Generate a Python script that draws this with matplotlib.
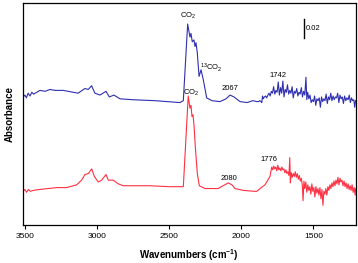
import matplotlib
matplotlib.use('Agg')
import matplotlib.pyplot as plt

plt.rcParams['font.family'] = ['Liberation Sans', 'DejaVu Sans']
plt.rcParams['mathtext.default'] = 'regular'

# Spectrum with CO2 gas (blue) ------------------------------------------
blue_w = [3512, 3500, 3490, 3478, 3465, 3452, 3440, 3396, 3360, 3327, 3290, 3234, 3200, 3165, 3132,
          3084, 3061, 3038, 3015, 2980, 2938, 2915, 2883, 2841, 2749, 2600, 2425,
          2402, 2372, 2356, 2349, 2340, 2328, 2321, 2314, 2305, 2293, 2279, 2263,
          2240, 2203, 2148, 2106, 2078, 2051, 2009, 1960, 1920, 1891,
          1880, 1872, 1864, 1858, 1853, 1848, 1840, 1832, 1824, 1816, 1808, 1800,
          1792, 1784, 1776, 1768, 1760, 1752, 1744, 1736, 1728, 1720, 1712, 1704,
          1696, 1688, 1680, 1672, 1664, 1656, 1648, 1640, 1632, 1624, 1616, 1608,
          1600, 1592, 1584, 1576, 1568, 1560, 1552, 1546, 1540, 1532, 1524, 1516,
          1508, 1500, 1492, 1484, 1476, 1468, 1460, 1452, 1444, 1436, 1428, 1420,
          1412, 1404, 1396, 1388, 1380, 1372, 1364, 1356, 1348, 1340, 1332, 1324,
          1316, 1308, 1300, 1292, 1284, 1276, 1268, 1260, 1252, 1244, 1236, 1228,
          1220, 1214, 1208]
blue_a = [0.137, 0.139, 0.136, 0.141, 0.138, 0.142, 0.140, 0.144, 0.143, 0.145, 0.144, 0.144, 0.143, 0.142, 0.141,
          0.146, 0.145, 0.149, 0.141, 0.139, 0.143, 0.137, 0.139, 0.135, 0.134, 0.133, 0.131,
          0.133, 0.215, 0.201, 0.205, 0.196, 0.198, 0.191, 0.195, 0.184, 0.159, 0.166, 0.155,
          0.136, 0.133, 0.132, 0.135, 0.139, 0.137, 0.132, 0.131, 0.133, 0.132,
          0.132, 0.133, 0.132, 0.131, 0.138, 0.135, 0.137, 0.138, 0.136, 0.139, 0.141, 0.138,
          0.143, 0.141, 0.148, 0.140, 0.144, 0.142, 0.153, 0.139, 0.147, 0.141, 0.154, 0.137,
          0.145, 0.142, 0.150, 0.140, 0.144, 0.141, 0.148, 0.136, 0.143, 0.141, 0.146, 0.138,
          0.142, 0.140, 0.147, 0.137, 0.143, 0.139, 0.158, 0.134, 0.142, 0.135, 0.139, 0.131,
          0.134, 0.132, 0.138, 0.128, 0.135, 0.133, 0.136, 0.126, 0.137, 0.132, 0.135, 0.133,
          0.140, 0.130, 0.137, 0.134, 0.141, 0.133, 0.138, 0.134, 0.137, 0.136, 0.141, 0.131,
          0.139, 0.135, 0.137, 0.130, 0.138, 0.133, 0.136, 0.134, 0.139, 0.131, 0.136, 0.133,
          0.134, 0.126, 0.133]

# Spectrum with CO (red) -------------------------------------------------
red_w = [3512, 3500, 3488, 3476, 3462, 3444, 3400, 3340, 3280, 3211, 3141, 3107, 3084, 3061, 3037,
         3019, 2992, 2968, 2938, 2922, 2888, 2871, 2853, 2818, 2700, 2633, 2500,
         2425, 2402, 2368, 2356, 2349, 2342, 2335, 2328, 2319, 2305, 2291, 2252,
         2160, 2127, 2090, 2065, 2044, 1986, 1905, 1893, 1870, 1836, 1801,
         1789, 1782, 1775, 1768, 1761, 1754, 1747, 1740, 1733, 1726, 1719, 1712,
         1705, 1698, 1691, 1684, 1677, 1670, 1664, 1660, 1654, 1647, 1640, 1633,
         1626, 1619, 1612, 1605, 1598, 1591, 1584, 1577, 1572, 1566, 1560, 1553,
         1546, 1539, 1532, 1525, 1518, 1511, 1504, 1497, 1490, 1483, 1476, 1469,
         1462, 1455, 1448, 1441, 1434, 1428, 1421, 1414, 1407, 1400, 1393, 1386,
         1379, 1372, 1365, 1358, 1351, 1344, 1337, 1330, 1323, 1316, 1309, 1302,
         1295, 1288, 1281, 1274, 1267, 1260, 1253, 1246, 1239, 1232, 1225, 1218,
         1211, 1207]
red_a = [0.036, 0.038, 0.035, 0.038, 0.036, 0.037, 0.038, 0.039, 0.040, 0.040, 0.043, 0.048, 0.054, 0.055, 0.060,
         0.052, 0.046, 0.048, 0.054, 0.048, 0.048, 0.046, 0.044, 0.042, 0.042, 0.042, 0.041,
         0.041, 0.041, 0.138, 0.125, 0.128, 0.116, 0.118, 0.107, 0.084, 0.055, 0.042, 0.039,
         0.039, 0.042, 0.045, 0.043, 0.039, 0.037, 0.036, 0.036, 0.039, 0.043, 0.052,
         0.062, 0.059, 0.063, 0.060, 0.062, 0.058, 0.064, 0.059, 0.061, 0.058, 0.062, 0.059,
         0.060, 0.056, 0.059, 0.055, 0.057, 0.053, 0.072, 0.045, 0.056, 0.051, 0.055, 0.052,
         0.057, 0.051, 0.055, 0.049, 0.053, 0.047, 0.050, 0.042, 0.026, 0.047, 0.039, 0.046,
         0.035, 0.043, 0.037, 0.041, 0.033, 0.044, 0.036, 0.040, 0.030, 0.041, 0.034, 0.039,
         0.032, 0.040, 0.028, 0.038, 0.021, 0.036, 0.033, 0.039, 0.032, 0.041, 0.037, 0.043,
         0.039, 0.045, 0.041, 0.047, 0.042, 0.048, 0.044, 0.051, 0.043, 0.050, 0.046, 0.048,
         0.042, 0.047, 0.041, 0.045, 0.039, 0.044, 0.038, 0.042, 0.037, 0.043, 0.035, 0.040,
         0.032, 0.039]

xticks = [3500, 3000, 2500, 2000, 1500]

# Figura -----------------------------------------------------------------
fig = plt.figure(figsize=(3.58, 2.63), dpi=100)
ax = fig.add_axes([0.064, 0.1445, 0.9296, 0.8441])

ax.plot(red_w, red_a, color='#ff3042', lw=0.8)
ax.plot(blue_w, blue_a, color='#2f2fb0', lw=0.8)

ax.set_xlim(3514, 1207)
ax.set_ylim(0, 0.2375)
ax.set_xticks(xticks)
ax.set_xticklabels([str(t) for t in xticks])
ax.set_yticks([])
ax.tick_params(axis='x', direction='out', length=3, width=0.8, labelsize=6, pad=3)
for s in ax.spines.values():
    s.set_linewidth(0.9)

ax.set_xlabel('Wavenumbers (cm$^{-1}$)', fontsize=7, fontweight='bold', labelpad=5)
ax.set_ylabel('Absorbance', fontsize=7, fontweight='bold', labelpad=6)

# etiquetas de picos
fs = 5.5
ax.text(2372, 0.224, 'CO$_2$', fontsize=fs, ha='center', va='center')
ax.text(2210, 0.168, '$^{13}$CO$_2$', fontsize=fs, ha='center', va='center')
ax.text(2078, 0.142, '2067', fontsize=fs, ha='center', va='bottom')
ax.text(1745, 0.160, '1742', fontsize=fs, ha='center', va='center')
ax.text(2350, 0.141, 'CO$_2$', fontsize=fs, ha='center', va='center')
ax.text(2085, 0.050, '2080', fontsize=fs, ha='center', va='center')
ax.text(1810, 0.070, '1776', fontsize=fs, ha='center', va='center')

# barra de escala 0.02
ax.plot([1565, 1565], [0.200, 0.220], color='black', lw=1.0)
ax.text(1555, 0.210, '0.02', fontsize=5.5, ha='left', va='center')

fig.savefig('out.png', dpi=100)
